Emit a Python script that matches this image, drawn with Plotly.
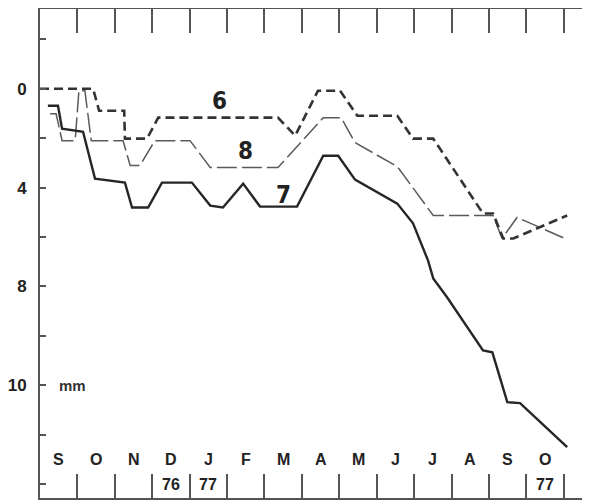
import plotly.graph_objects as go

# Months from Sep 1976 (x = months since 1 Sep 1976)
month_labels = ["S", "O", "N", "D", "J", "F", "M", "A", "M", "J", "J", "A", "S", "O"]
year_pos = [3, 4, 13]
year_text = ["76", "77", "77"]
month_bounds = list(range(1, 15))

# Y axis ticks (values increase downward)
y_tickvals = [-2, 0, 2, 4, 6, 8, 10, 12, 14, 16]
y_ticktext = ["", "0", "", "4", "", "8", "", "10", "", ""]

# Curve 6 (dashed)
c6_x = [0, 1.42, 1.58, 2.25, 2.27, 2.86, 3.16, 6.36, 6.82, 7.43, 8.02, 8.48, 9.55, 9.97, 10.51, 11.84, 12.11, 12.38, 12.65, 14.09]
c6_y = [0, 0, 0.89, 0.89, 2.02, 2.02, 1.17, 1.17, 1.90, 0.08, 0.08, 1.09, 1.09, 2.02, 2.02, 5.05, 5.05, 6.06, 6.06, 5.13]

# Curve 7 (solid)
c7_x = [0.21, 0.48, 0.59, 1.15, 1.47, 2.27, 2.46, 2.89, 3.26, 4.06, 4.55, 4.89, 5.43, 5.88, 6.87, 7.57, 7.97, 8.42, 9.55, 9.97, 10.37, 10.51, 10.88, 11.84, 12.09, 12.49, 12.83, 14.09]
c7_y = [0.69, 0.69, 1.62, 1.74, 3.64, 3.80, 4.81, 4.81, 3.80, 3.80, 4.73, 4.81, 3.84, 4.77, 4.77, 2.71, 2.71, 3.68, 4.65, 5.45, 6.95, 7.68, 8.44, 10.59, 10.67, 12.69, 12.73, 14.51]

# Curve 8 (thin long dash)
c8_x = [0.27, 0.43, 0.59, 0.94, 1.04, 1.20, 1.37, 2.22, 2.41, 2.67, 3.07, 4.01, 4.55, 6.36, 7.57, 8.05, 8.42, 9.55, 10.51, 12.11, 12.35, 12.75, 14.09]
c8_y = [1.01, 1.01, 2.10, 2.10, 0.08, 0.08, 2.10, 2.10, 3.11, 3.11, 2.10, 2.10, 3.19, 3.19, 1.17, 1.17, 2.18, 3.15, 5.13, 5.13, 6.06, 5.21, 6.10]

curve_names = ["6", "7", "8"]
label_x = [4.81, 6.5, 5.5]
label_y = [0.48, 4.32, 2.5]

fig = go.Figure()
fig.add_trace(go.Scatter(x=c8_x, y=c8_y, mode="lines",
                         line=dict(color="#5a5a5a", width=1.5, dash="20px,5px")))
fig.add_trace(go.Scatter(x=c6_x, y=c6_y, mode="lines",
                         line=dict(color="#333333", width=2.6, dash="9px,5px")))
fig.add_trace(go.Scatter(x=c7_x, y=c7_y, mode="lines",
                         line=dict(color="#262626", width=2.4)))

narrow = "Liberation Sans Narrow, DejaVu Sans Condensed, Arial Narrow, sans-serif"
bold_font = "Liberation Sans, Arial, Helvetica, sans-serif"

annotations = []
for i, t in enumerate(month_labels):
    annotations.append(dict(x=i + 0.5, y=0.078, xref="x", yref="paper", text=t,
                            showarrow=False, xanchor="center", yanchor="middle",
                            font=dict(family=bold_font, size=16, color="#222", weight="bold")))
for p, t in zip(year_pos, year_text):
    annotations.append(dict(x=p + 0.5, y=0.027, xref="x", yref="paper", text=t,
                            showarrow=False, xanchor="center", yanchor="middle",
                            font=dict(family=bold_font, size=16, color="#222", weight="bold")))
for t, lx, ly in zip(curve_names, label_x, label_y):
    annotations.append(dict(x=lx, y=ly, xref="x", yref="y", text=t, showarrow=False,
                            xanchor="center", yanchor="middle",
                            font=dict(family=narrow, size=24, color="#222", weight="bold")))
annotations.append(dict(x=0.86, y=12, xref="x", yref="y", text="mm", showarrow=False,
                        xanchor="center", yanchor="middle",
                        font=dict(family=bold_font, size=15, color="#333", weight="bold")))

# page body adds an 8px offset, so the figure is sized to the visible area
fig.update_layout(
    width=582, height=494,
    margin=dict(l=32, r=0, t=1, b=4),
    paper_bgcolor="white", plot_bgcolor="white",
    showlegend=False,
    annotations=annotations,
    xaxis=dict(range=[0, 14.7], showgrid=False, zeroline=False, automargin=False,
               showline=True, linecolor="#555", linewidth=2, mirror="ticks",
               tickmode="array", tickvals=month_bounds, showticklabels=False,
               ticks="inside", ticklen=24, tickwidth=2, tickcolor="#555"),
    yaxis=dict(range=[16.57, -3.23], showgrid=False, zeroline=False, automargin=False,
               showline=True, linecolor="#555", linewidth=2, mirror=False,
               tickmode="array", tickvals=y_tickvals, ticktext=y_ticktext,
               ticks="inside", ticklen=6, tickwidth=2, tickcolor="#555",
               ticklabelstandoff=8,
               tickfont=dict(family=bold_font, size=17, color="#222", weight="bold")),
)

fig.write_html("out.html")
